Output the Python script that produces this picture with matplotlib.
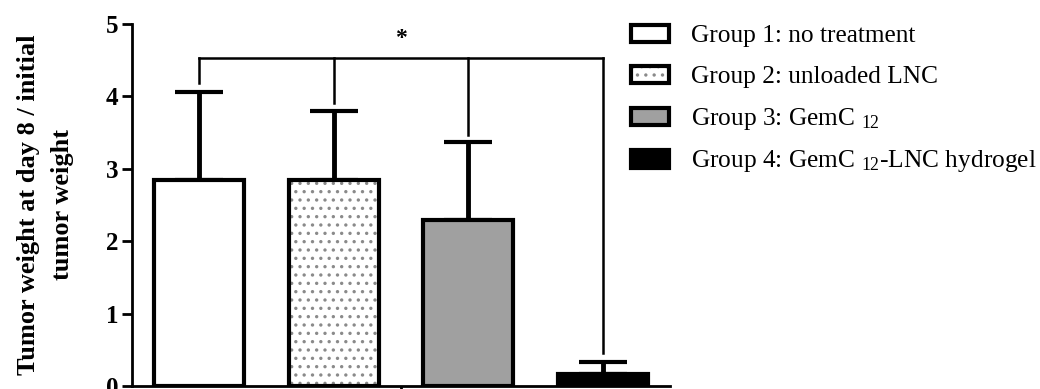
import matplotlib
matplotlib.use("Agg")
import matplotlib.pyplot as plt
from matplotlib.legend_handler import HandlerTuple, HandlerPatch
from matplotlib.patches import Rectangle

# ---- data ----
groups = ["Group 1: no treatment", "Group 2: unloaded LNC",
          "Group 3: GemC $_{12}$", "Group 4: GemC $_{12}$-LNC hydrogel"]
means = [2.85, 2.85, 2.29, 0.17]
err_up = [1.21, 0.95, 1.08, 0.16]
bracket_y = 4.53
bracket_drops = [4.19, 3.91, 3.47, 0.46]
star_y = 4.80
yticks = [0, 1, 2, 3, 4, 5]

plt.rcParams['font.family'] = ['Liberation Serif', 'DejaVu Serif']
plt.rcParams['mathtext.fontset'] = 'custom'
plt.rcParams['mathtext.rm'] = 'Liberation Serif'
plt.rcParams['mathtext.it'] = 'Liberation Serif:italic'
plt.rcParams['mathtext.bf'] = 'Liberation Serif:bold'
plt.rcParams['hatch.linewidth'] = 1.2

fig = plt.figure(figsize=(10.4, 3.89), dpi=100)
ax = fig.add_axes([132/1040, 3/389, 538/1040, 362/389])

x = list(range(len(means)))
face = ['white', 'white', '#a0a0a0', 'black']
hatches = ['', '..', '', '']
width = 0.67

hatch_bars = ax.bar(x, means, width=width, color=face, edgecolor='#8a8a8a',
                    linewidth=0, hatch=hatches, zorder=2)
out_bars = ax.bar(x, means, width=width, color='none', edgecolor='black',
                  linewidth=3, zorder=3)

ax.errorbar(x, means, yerr=[[0]*len(means), err_up], fmt='none', ecolor='black',
            elinewidth=3.5, capsize=17, capthick=3, zorder=1)

ax.plot([x[0], x[-1]], [bracket_y, bracket_y], color='black', lw=1.8,
        solid_capstyle='projecting', zorder=4)
for xi, d in zip(x, bracket_drops):
    ax.plot([xi, xi], [d, bracket_y], color='black', lw=1.8, zorder=4)
ax.text((x[0] + x[-1]) / 2, star_y, '*', ha='center', va='center',
        fontsize=17, fontweight='bold')

ax.set_xlim(-0.5, 3.5)
ax.set_ylim(0, 5)
ax.set_yticks(yticks)
ax.set_yticklabels([str(t) for t in yticks], fontweight='bold', fontsize=18)
ax.set_xticks([(x[0] + x[-1]) / 2])
ax.set_xticklabels([''])
ax.tick_params(axis='y', length=7, width=2, pad=3)
ax.tick_params(axis='x', length=6, width=2)
for s in ['top', 'right']:
    ax.spines[s].set_visible(False)
for s in ['left', 'bottom']:
    ax.spines[s].set_linewidth(2)

ax.set_ylabel("Tumor weight at day 8 / initial\ntumor weight", fontsize=19,
              fontweight='bold', linespacing=1.6)
ax.yaxis.set_label_coords(-0.108, 0.5)


def fixed_rect(legend, orig_handle, xdescent, ydescent, width, height, fontsize):
    h = 0.68 * fontsize
    return Rectangle((-xdescent, -ydescent + (height - h) / 2), width, h)


handles = [(hb, ob) for hb, ob in zip(hatch_bars, out_bars)]
leg = ax.legend(handles, groups,
                handler_map={tuple: HandlerTuple(ndivide=1),
                             Rectangle: HandlerPatch(patch_func=fixed_rect)},
                loc='upper left', bbox_to_anchor=(631/1040, 1 - 19/389),
                bbox_transform=fig.transFigure, frameon=False, fontsize=18.3,
                borderpad=0, borderaxespad=0, handlelength=1.5,
                handleheight=1.35, handletextpad=0.88, labelspacing=0.51)

fig.savefig('out.png', dpi=100)
